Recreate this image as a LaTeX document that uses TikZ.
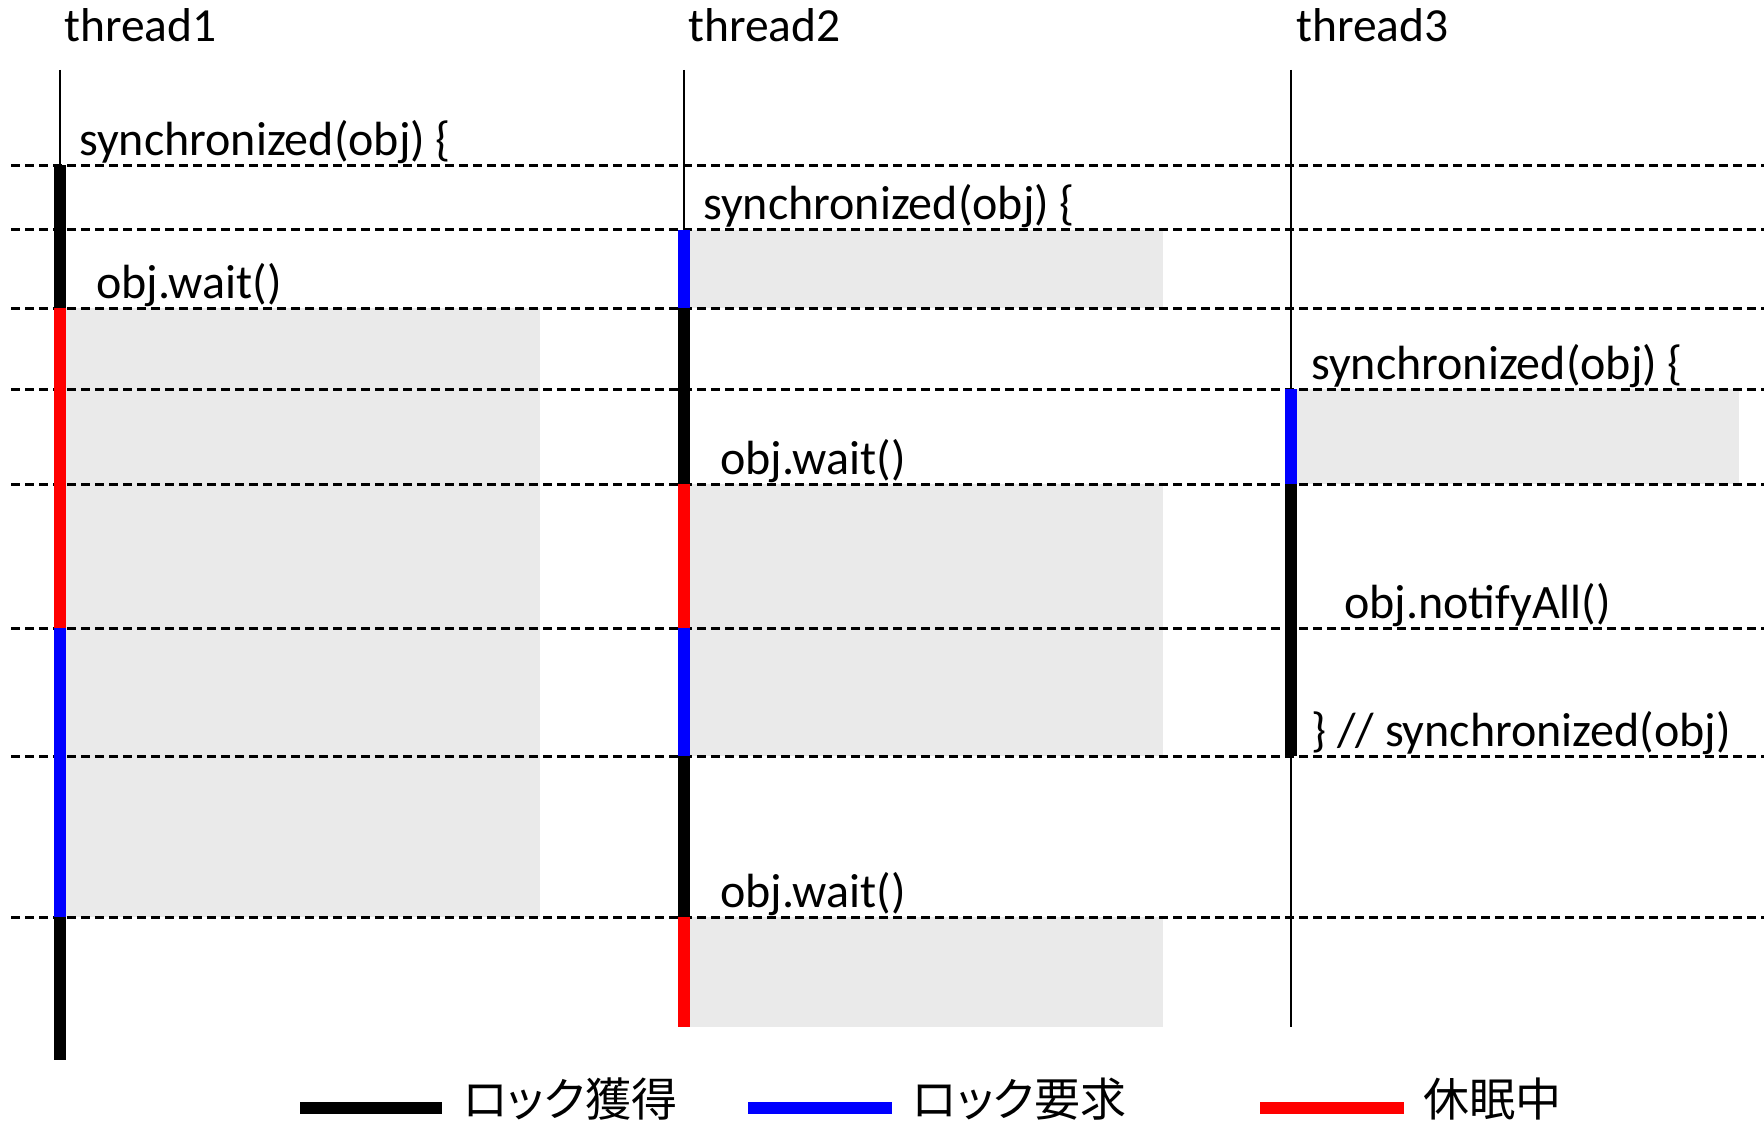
\documentclass[tikz,border=0pt]{standalone}
\usepackage{fontspec}
\setmainfont{Carlito}
\newfontfamily\jpfont[RawFeature=+palt]{Noto Sans CJK JP}
\usetikzlibrary{positioning,calc}
\definecolor{waitbg}{RGB}{234,234,234}

\begin{document}
\begin{tikzpicture}[x=1pt, y=-1pt,
Tlabel/.style={anchor=base west, inner sep=0pt, font=\fontsize{47.5}{56}\selectfont},
Code/.style={anchor=base west, inner sep=0pt, font=\fontsize{48}{56}\selectfont},
Sep/.style={dash pattern=on 9pt off 5pt, line width=3pt},
Thread/.style={line width=2pt},
Hold/.style={line width=12pt, black},
Req/.style={line width=12pt, blue},
Sleep/.style={line width=12pt, red},
Keytext/.style={inner sep=0pt, font=\jpfont\fontsize{46}{54}\selectfont}
]
\useasboundingbox (0,0) rectangle (1764,1121);

%Coordinates
\coordinate (T1) at (60,70);
\coordinate (T2) at (684,70);
\coordinate (T3) at (1291,70);
\coordinate (W1) at (540,0);
\coordinate (W2) at (1163,0);
\coordinate (W3) at (1739,0);
\coordinate (xL) at (11,0);
\coordinate (xR) at (1764,0);
\coordinate (r1) at (0,165);
\coordinate (r2) at (0,229.5);
\coordinate (r3) at (0,308);
\coordinate (r4) at (0,389);
\coordinate (r5) at (0,484);
\coordinate (r6) at (0,628);
\coordinate (r7) at (0,756);
\coordinate (r8) at (0,917);
\coordinate (e1) at (0,1060);
\coordinate (e2) at (0,1027);

%Waiting areas
\fill[waitbg] (T1 |- r3) rectangle (W1 |- r8);
\fill[waitbg] (T2 |- r2) rectangle (W2 |- r3);
\fill[waitbg] (T2 |- r5) rectangle (W2 |- r7);
\fill[waitbg] (T2 |- r8) rectangle (W2 |- e2);
\fill[waitbg] (T3 |- r4) rectangle (W3 |- r5);

%Time steps
\foreach \r in {r1,r2,r3,r4,r5,r6,r7,r8}
  \draw[Sep] (xL |- \r) -- (xR |- \r);

%Threads
\node[Tlabel] (L1) at ($(T1)+(4,-28)$) {thread1};
\node[Tlabel] (L2) at ($(T2)+(4,-28)$) {thread2};
\node[Tlabel] (L3) at ($(T3)+(5,-28)$) {thread3};

\draw[Thread] (T1) -- (T1 |- r1);
\draw[Thread] (T2) -- (T2 |- r2);
\draw[Thread] (T3) -- (T3 |- e2);

\draw[Hold]  (T1 |- r1) -- (T1 |- r3);
\draw[Sleep] (T1 |- r3) -- (T1 |- r6);
\draw[Req]   (T1 |- r6) -- (T1 |- r8);
\draw[Hold]  (T1 |- r8) -- (T1 |- e1);

\draw[Req]   (T2 |- r2) -- (T2 |- r3);
\draw[Hold]  (T2 |- r3) -- (T2 |- r5);
\draw[Sleep] (T2 |- r5) -- (T2 |- r6);
\draw[Req]   (T2 |- r6) -- (T2 |- r7);
\draw[Hold]  (T2 |- r7) -- (T2 |- r8);
\draw[Sleep] (T2 |- r8) -- (T2 |- e2);

\draw[Req]   (T3 |- r4) -- (T3 |- r5);
\draw[Hold]  (T3 |- r5) -- (T3 |- r7);

%Code
\node[Code] (c1) at ($(T1 |- r1)+(19,-10)$) {synchronized(obj) \{};
\node[Code] (c2) at ($(T1 |- r3)+(36,-10)$) {obj.wait()};
\node[Code] (c3) at ($(T2 |- r2)+(19,-10)$) {synchronized(obj) \{};
\node[Code] (c4) at ($(T2 |- r5)+(36,-10)$) {obj.wait()};
\node[Code] (c5) at ($(T2 |- r8)+(36,-10)$) {obj.wait()};
\node[Code] (c6) at ($(T3 |- r4)+(20,-10)$) {synchronized(obj) \{};
\node[Code] (c7) at ($(T3 |- r6)+(53,-10)$) {obj.notifyAll()};
\node[Code] (c8) at ($(T3 |- r7)+(20,-10)$) {\} // synchronized(obj)};

%Legend
\coordinate (K1a) at (300,1108);
\coordinate (K1b) at (442,1108);
\coordinate (K2a) at (748,1108);
\coordinate (K2b) at (892,1108);
\coordinate (K3a) at (1260,1108);
\coordinate (K3b) at (1404,1108);
\draw[Hold]  (K1a) -- (K1b);
\draw[Req]   (K2a) -- (K2b);
\draw[Sleep] (K3a) -- (K3b);
\node[Keytext, right=21pt of K1b, yshift=9pt] (k1) {ロック獲得};
\node[Keytext, right=20pt of K2b, yshift=9pt] (k2) {ロック要求};
\node[Keytext, right=19pt of K3b, yshift=9pt] (k3) {休眠中};
\end{tikzpicture}
\end{document}
